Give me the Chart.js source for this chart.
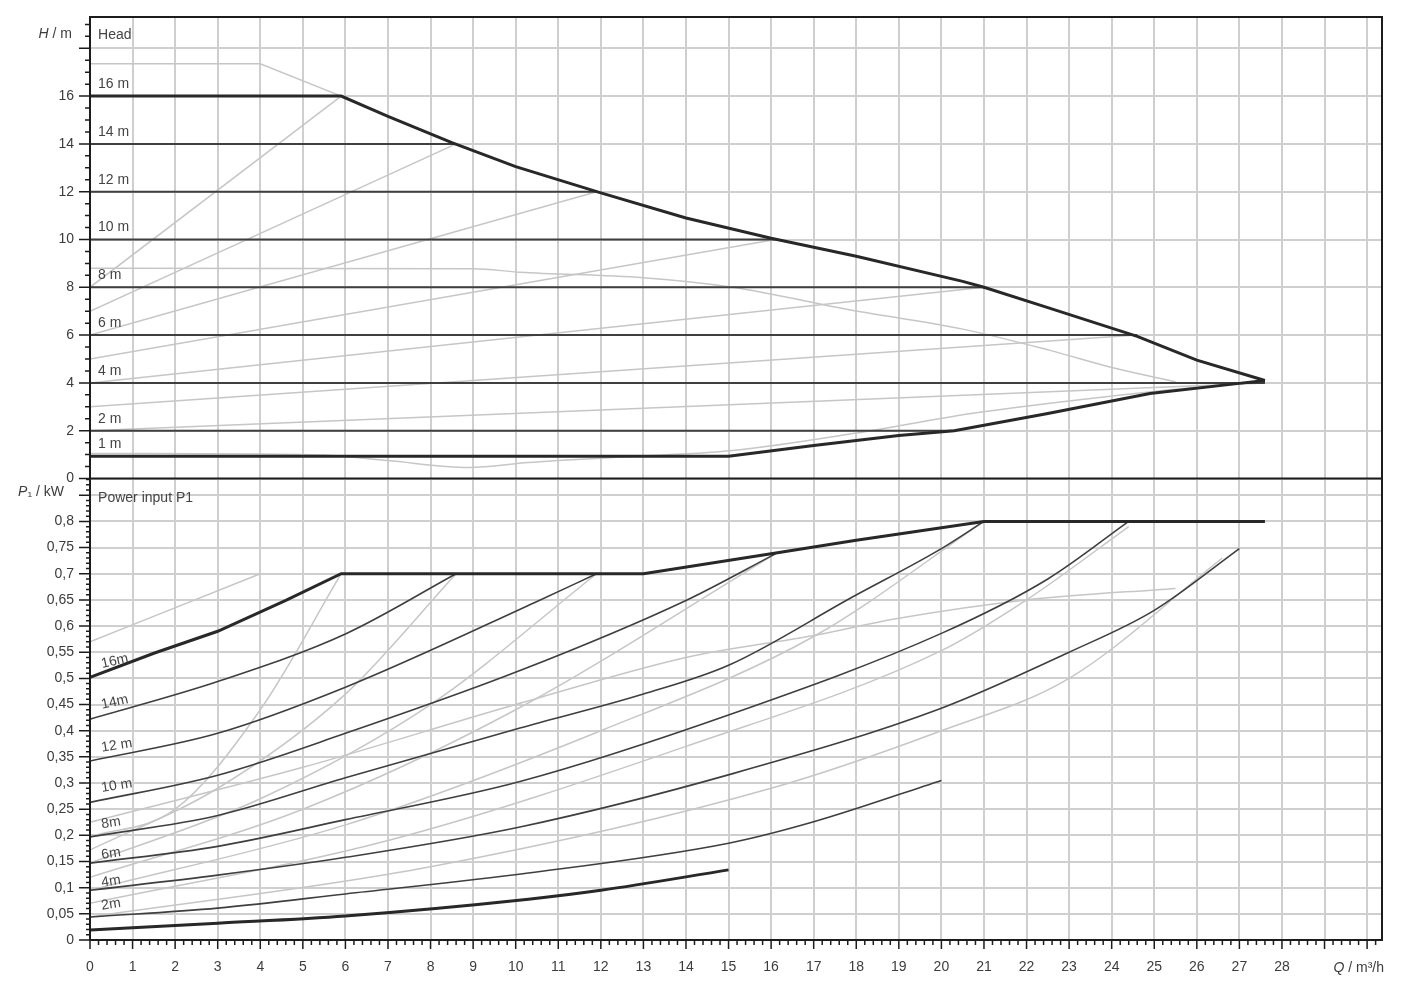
<!DOCTYPE html>
<html lang="en">
<head>
<meta charset="UTF-8">
<title>Head and Power input P1</title>
<script src="https://cdn.jsdelivr.net/npm/chart.js"></script>
<style>
    html, body { margin: 0; padding: 0; background: #fff; }
    #wrap { width: 1418px; height: 1000px; }
</style>
</head>
<body>
<div id="wrap"><canvas id="pumpChart" width="1418" height="1000"></canvas></div>
<script>
// ---- values: Q in m³/h, H in m, P1 in kW ----
const qTicks = [0,1,2,3,4,5,6,7,8,9,10,11,12,13,14,15,16,17,18,19,20,21,22,23,24,25,26,27,28,29,30];
const headTicks = [0,2,4,6,8,10,12,14,16,18];
const powerTicks = [0,0.05,0.1,0.15,0.2,0.25,0.3,0.35,0.4,0.45,0.5,0.55,0.6,0.65,0.7,0.75,0.8,0.85];

// constant pressure set points and where they meet the max curve
const setHeads = [16, 14, 12, 10, 8, 6, 4, 2];
const setEndQ  = [5.9, 8.6, 11.9, 16.1, 21.0, 24.6, 27.6, 20.3];
// variable pressure lines start at half the set head (16..4 m)
const dpvStartH = [8, 7, 6, 5, 4, 3, 2];

const headMax = [[0,16],[5.9,16],[7,15.15],[8.5,14.05],[10,13.05],[12,11.95],[14,10.9],[16,10.05],[18,9.3],[20.5,8.25],[21,8.0],[22.5,7.15],[24.6,5.95],[26,4.95],[27.6,4.1]];
const headMin = [[0,0.93],[15,0.93],[17,1.38],[19,1.8],[20.3,2.0],[22.5,2.72],[24.9,3.56],[27,3.98],[27.6,4.1]];
const headMaxSpeed = [[0,17.35],[4,17.35],[5.9,16]];
const headNight = [[0,8.8],[9,8.78],[10.1,8.63],[13,8.4],[15.1,8.0],[17.9,7.04],[20.5,6.25],[22.55,5.36],[24.1,4.6],[25.5,4.05]];
const headLow = [[0,1.05],[4,1.02],[5.5,0.98],[7,0.75],[8.9,0.46],[10.3,0.67],[12.5,0.9],[15.1,1.17],[18,1.9],[20.7,2.72],[24,3.45],[27.6,4.1]];

const powerMax = [[0,0.502],[1.5,0.548],[3,0.59],[4.6,0.649],[5.9,0.70],[13,0.70],[16,0.738],[18,0.764],[21,0.80],[27.6,0.80]];
const power14 = [[0,0.422],[3,0.494],[6,0.585],[8.6,0.70]];
const power12 = [[0,0.342],[3,0.395],[6,0.483],[10.45,0.645],[11.9,0.70]];
const power10 = [[0,0.263],[3,0.315],[6,0.395],[10.1,0.515],[14,0.649],[16.1,0.738]];
const power8  = [[0,0.197],[3,0.238],[6,0.31],[10.1,0.405],[13,0.47],[15,0.525],[17.9,0.655],[20,0.748],[21,0.80]];
const power6  = [[0,0.147],[3,0.179],[6,0.23],[10.1,0.303],[15.1,0.433],[20,0.586],[22.5,0.69],[24.4,0.80]];
const power4  = [[0,0.095],[3,0.124],[6,0.158],[10.1,0.216],[15.1,0.318],[20,0.443],[23,0.55],[25,0.63],[27,0.748]];
const power2  = [[0,0.044],[3,0.061],[6,0.088],[10.3,0.128],[15,0.185],[17,0.226],[20,0.305]];
const power1  = [[0,0.019],[3,0.032],[6,0.046],[10.3,0.078],[12,0.095],[15,0.134]];

const powerDpv16 = [[0,0.197],[2,0.25],[4,0.44],[5.9,0.70]];
const powerDpv14 = [[0,0.172],[3,0.29],[6,0.47],[8.6,0.70]];
const powerDpv12 = [[0,0.147],[4,0.27],[8,0.45],[11.9,0.70]];
const powerDpv10 = [[0,0.12],[5,0.25],[10,0.44],[16.1,0.738]];
const powerDpv8  = [[0,0.095],[6,0.22],[12,0.40],[17,0.58],[21,0.80]];
const powerDpv6  = [[0,0.07],[7,0.19],[14,0.37],[20,0.553],[22,0.65],[24.4,0.79]];
const powerDpv4  = [[0,0.044],[8,0.14],[16,0.29],[20,0.40],[23,0.50],[26.6,0.73]];
const powerMaxSpeed = [[0,0.57],[4,0.70]];
const powerNight = [[0,0.225],[5,0.33],[10,0.45],[14,0.54],[17,0.582],[19,0.615],[22,0.65],[25.5,0.672]];

const headLabels = ['16 m','14 m','12 m','10 m','8 m','6 m','4 m','2 m','1 m'];
const powerLabels = ['16m','14m','12 m','10 m','8m','6m','4m','2m'];

// ---- styles ----
const LIGHT = '#c6c6c6', DARK = '#3f3f3f', HEAVY = '#282828';
const headLabelAt = [16.5,14.5,12.5,10.5,8.5,6.5,4.5,2.5,1.42];
const powerLabelAt = [0.527,0.449,0.367,0.29,0.221,0.162,0.109,0.065];

function curve(pairs, axis, color, width, order, smooth) {
    return {
        data: pairs.map(([x, y]) => ({x, y})),
        yAxisID: axis,
        borderColor: color,
        borderWidth: width,
        showLine: true,
        pointRadius: 0,
        fill: false,
        order: order,
        cubicInterpolationMode: smooth ? 'monotone' : 'default',
        tension: 0
    };
}

const datasets = [];
// head chart
datasets.push(curve(headMax, 'yH', HEAVY, 3, 0, false));
datasets.push(curve(headMin, 'yH', HEAVY, 3, 0, false));
setHeads.forEach((h, i) => {
    datasets.push(curve([[0, h], [setEndQ[i], h]], 'yH', DARK, 2, 1, false));
});
dpvStartH.forEach((h0, i) => {
    datasets.push(curve([[0, h0], [setEndQ[i], setHeads[i]]], 'yH', LIGHT, 1.5, 2, false));
});
datasets.push(curve(headMaxSpeed, 'yH', LIGHT, 1.5, 2, false));
datasets.push(curve(headNight, 'yH', LIGHT, 1.5, 2, true));
datasets.push(curve(headLow, 'yH', LIGHT, 1.5, 2, true));
// power chart
datasets.push(curve(powerMax, 'yP', HEAVY, 3, 0, false));
datasets.push(curve(power1, 'yP', HEAVY, 3, 0, true));
[power14, power12, power10, power8, power6, power4, power2].forEach(p => {
    datasets.push(curve(p, 'yP', DARK, 1.6, 1, true));
});
[powerDpv16, powerDpv14, powerDpv12, powerDpv10, powerDpv8, powerDpv6, powerDpv4, powerMaxSpeed, powerNight].forEach(p => {
    datasets.push(curve(p, 'yP', LIGHT, 1.5, 2, true));
});

const FONT = '"Liberation Sans", Arial, sans-serif';
Chart.defaults.font.family = FONT;

function fmtP(v) {
    if (v > 0.8001) return '';
    return (Math.round(v * 100) / 100).toString().replace('.', ',');
}

// frame, minor ticks and text on the plot
const decor = {
    id: 'decor',
    afterDraw(chart) {
        const {ctx, chartArea: a} = chart;
        const x = chart.scales.x, yH = chart.scales.yH, yP = chart.scales.yP;
        ctx.save();
        ctx.strokeStyle = '#1c1c1c';
        ctx.lineWidth = 2;
        ctx.strokeRect(a.left, a.top, a.right - a.left, a.bottom - a.top);
        const y0 = yH.getPixelForValue(0);
        ctx.beginPath();
        ctx.moveTo(a.left, y0);
        ctx.lineTo(a.right, y0);
        ctx.stroke();

        // tick marks
        ctx.lineWidth = 1.5;
        ctx.beginPath();
        for (let i = 0; i * 0.2 <= x.max; i++) {
            const px = x.getPixelForValue(i * 0.2);
            ctx.moveTo(px, a.bottom);
            ctx.lineTo(px, a.bottom + (i % 5 === 0 ? 9 : 5));
        }
        for (let k = 0; k * 0.5 <= yH.max; k++) {
            const py = yH.getPixelForValue(k * 0.5);
            ctx.moveTo(a.left, py);
            ctx.lineTo(a.left - (k % 4 === 0 ? 11 : 5), py);
        }
        for (let k = 0; k * 0.01 <= yP.max; k++) {
            const py = yP.getPixelForValue(k * 0.01);
            ctx.moveTo(a.left, py);
            ctx.lineTo(a.left - (k % 5 === 0 ? 11 : 4), py);
        }
        ctx.stroke();

        // axis titles
        ctx.fillStyle = '#3c3c3c';
        ctx.textBaseline = 'middle';
        ctx.textAlign = 'left';
        ctx.font = '14px ' + FONT;
        let w = ctx.measureText(' / m').width;
        ctx.fillText(' / m', 72 - w, yH.getPixelForValue(18.6));
        ctx.font = 'italic 14px ' + FONT;
        let wi = ctx.measureText('H').width;
        ctx.fillText('H', 72 - w - wi, yH.getPixelForValue(18.6));

        ctx.font = '14px ' + FONT;
        w = ctx.measureText('\u2081 / kW').width;
        ctx.fillText('\u2081 / kW', 64 - w, yP.getPixelForValue(0.856));
        ctx.font = 'italic 14px ' + FONT;
        wi = ctx.measureText('P').width;
        ctx.fillText('P', 64 - w - wi, yP.getPixelForValue(0.856));

        ctx.font = '14px ' + FONT;
        w = ctx.measureText(' / m\u00b3/h').width;
        ctx.fillText(' / m\u00b3/h', a.right + 2 - w, a.bottom + 28);
        ctx.font = 'italic 14px ' + FONT;
        wi = ctx.measureText('Q').width;
        ctx.fillText('Q', a.right + 2 - w - wi, a.bottom + 28);

        // panel titles and curve labels
        ctx.font = '14px ' + FONT;
        ctx.fillStyle = '#444';
        const lx = x.getPixelForValue(0.19);
        ctx.fillText('Head', lx, yH.getPixelForValue(18.55));
        ctx.fillText('Power input P1', lx, yP.getPixelForValue(0.844));
        headLabels.forEach((t, i) => {
            ctx.fillText(t, lx, yH.getPixelForValue(headLabelAt[i]));
        });
        powerLabels.forEach((t, i) => {
            ctx.save();
            ctx.translate(x.getPixelForValue(0.27), yP.getPixelForValue(powerLabelAt[i]));
            ctx.rotate(i < 2 ? -0.22 : -0.16);
            ctx.fillText(t, 0, 0);
            ctx.restore();
        });
        ctx.restore();
    }
};

// tick marks themselves are drawn by the plugin; the invisible ones only space the labels
const gridStyle = { color: '#cfcfcf', lineWidth: 2, drawTicks: true, tickLength: 8, tickColor: 'rgba(0,0,0,0)' };

new Chart(document.getElementById('pumpChart'), {
    type: 'scatter',
    data: { datasets: datasets },
    options: {
        responsive: false,
        animation: false,
        events: [],
        layout: { padding: { top: 17, right: 36, left: 0, bottom: 0 } },
        plugins: { legend: { display: false }, tooltip: { enabled: false } },
        scales: {
            x: {
                type: 'linear', position: 'bottom', min: 0, max: 30.35,
                afterBuildTicks: s => { s.ticks = qTicks.map(v => ({value: v})); },
                afterFit: s => { s.height = 60; },
                ticks: { autoSkip: false, maxRotation: 0, padding: 11, color: '#3c3c3c', font: { size: 14 },
                         callback: v => v <= 28 ? v : '' },
                grid: gridStyle,
                border: { display: false }
            },
            yP: {
                type: 'linear', position: 'left', stack: 'panels', stackWeight: 1, min: 0, max: 0.882,
                afterBuildTicks: s => { s.ticks = powerTicks.map(v => ({value: v})); },
                afterFit: s => { s.width = 90; },
                ticks: { autoSkip: false, padding: 8, color: '#3c3c3c', font: { size: 14 },
                         callback: v => fmtP(v) },
                grid: gridStyle,
                border: { display: false }
            },
            yH: {
                type: 'linear', position: 'left', stack: 'panels', stackWeight: 1, min: 0, max: 19.31,
                afterBuildTicks: s => { s.ticks = headTicks.map(v => ({value: v})); },
                afterFit: s => { s.width = 90; },
                ticks: { autoSkip: false, padding: 8, color: '#3c3c3c', font: { size: 14 },
                         callback: v => v <= 16 ? v : '' },
                grid: gridStyle,
                border: { display: false }
            }
        }
    },
    plugins: [decor]
});
</script>
</body>
</html>
